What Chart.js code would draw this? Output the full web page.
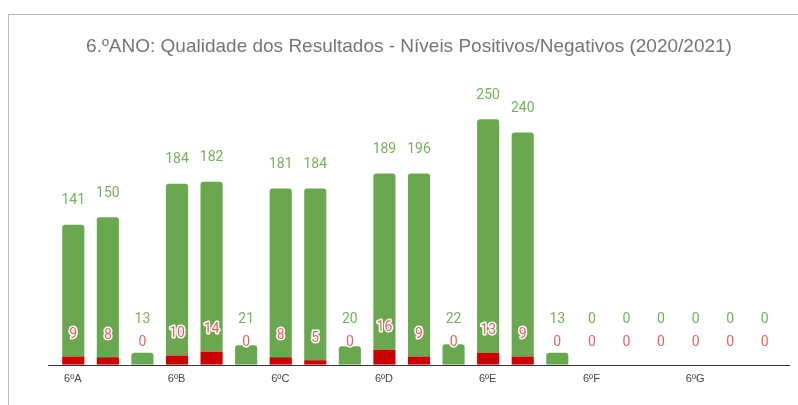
<!DOCTYPE html>
<html>
<head>
<meta charset="utf-8">
<script src="https://cdn.jsdelivr.net/npm/chart.js@4"></script>
<style>
  html, body { margin: 0; padding: 0; background: #fff; overflow: hidden; }
  #frame {
    position: absolute; left: 8px; top: 14px;
    width: 789px; height: 390px;
    border-top: 1px solid #bdbdbd; border-left: 1px solid #bdbdbd;
  }
  canvas { display: block; }
</style>
</head>
<body>
<div id="frame"><canvas id="chart" width="789" height="390"></canvas></div>
<script>
/* ==========================
   Data
   ========================== */
const turmas = ['6ºA', '6ºB', '6ºC', '6ºD', '6ºE', '6ºF', '6ºG'];
const periodos = ['1.º Período', '2.º Período', '3.º Período'];

// niveis positivos por periodo
const positivos1 = [141, 184, 181, 189, 250, 0, 0];
const positivos2 = [150, 182, 184, 196, 240, 0, 0];
const positivos3 = [13, 21, 20, 22, 13, 0, 0];

// niveis negativos por periodo
const negativos1 = [9, 10, 8, 16, 13, 0, 0];
const negativos2 = [8, 14, 5, 9, 9, 0, 0];
const negativos3 = [0, 0, 0, 0, 0, 0, 0];

const yMax = 300;

const verde = '#6aa84f';
const vermelho = '#cc0000';

/* ==========================
   Plugins
   ========================== */
// linha de base um pouco mais larga que a area do grafico
const baseLine = {
  id: 'baseLine',
  afterDatasetsDraw(chart) {
    const { ctx, chartArea } = chart;
    ctx.save();
    ctx.strokeStyle = '#333';
    ctx.lineWidth = 1;
    ctx.beginPath();
    ctx.moveTo(chartArea.left - 8, Math.round(chartArea.bottom) + 0.5);
    ctx.lineTo(chartArea.right + 8, Math.round(chartArea.bottom) + 0.5);
    ctx.stroke();
    ctx.restore();
  }
};

// rotulos de valor (verde por cima, vermelho acima da barra vermelha)
const valueLabels = {
  id: 'valueLabels',
  afterDatasetsDraw(chart) {
    const ctx = chart.ctx;
    ctx.save();
    ctx.font = '14px Roboto, "Liberation Sans", sans-serif';
    ctx.textAlign = 'center';
    ctx.textBaseline = 'middle';
    ctx.lineJoin = 'round';
    ctx.lineWidth = 3;
    ctx.strokeStyle = '#fff';

    for (let s = 0; s < periodos.length; s++) {
      const redMeta = chart.getDatasetMeta(s);
      const greenMeta = chart.getDatasetMeta(s + periodos.length);
      const redData = chart.data.datasets[s].data;
      const greenData = chart.data.datasets[s + periodos.length].data;

      redMeta.data.forEach((bar, i) => {
        const g = greenMeta.data[i];
        const redY = bar.y - 22;
        const greenY = Math.min(g.y - 24, redY - 23);

        ctx.fillStyle = '#e06666';
        ctx.strokeText(String(redData[i]), bar.x, redY);
        ctx.fillText(String(redData[i]), bar.x, redY);

        ctx.fillStyle = '#74b25a';
        ctx.strokeText(String(greenData[i]), g.x, greenY);
        ctx.fillText(String(greenData[i]), g.x, greenY);
      });
    }
    ctx.restore();
  }
};

/* ==========================
   Chart
   ========================== */
const negativos = [negativos1, negativos2, negativos3];
const positivos = [positivos1, positivos2, positivos3];

const datasets = [];
// vermelhos primeiro para ficarem desenhados por cima
negativos.forEach((arr, idx) => {
  datasets.push({
    label: 'Negativos ' + periodos[idx],
    data: arr,
    stack: 'p' + idx,
    backgroundColor: vermelho
  });
});
positivos.forEach((arr, idx) => {
  datasets.push({
    label: 'Positivos ' + periodos[idx],
    data: arr,
    stack: 'p' + idx,
    backgroundColor: verde,
    borderRadius: { topLeft: 3, topRight: 3 },
    borderSkipped: 'bottom'
  });
});

// eixo invisivel so para reservar espaco lateral
function spacer(width) {
  return {
    display: true,
    grid: { display: false },
    border: { display: false },
    ticks: { display: false },
    afterFit(scale) { scale.width = width; }
  };
}

new Chart(document.getElementById('chart'), {
  type: 'bar',
  data: { labels: turmas, datasets: datasets },
  options: {
    responsive: false,
    animation: false,
    categoryPercentage: 1,
    barPercentage: 0.64,
    layout: { padding: { left: 11, right: 0, top: 0, bottom: 11 } },
    plugins: {
      legend: { display: false },
      tooltip: { enabled: false },
      title: {
        display: true,
        text: '6.ºANO: Qualidade dos Resultados - Níveis Positivos/Negativos (2020/2021)',
        color: '#757575',
        font: { family: '"Liberation Sans", Arial, sans-serif', size: 19, weight: 'normal' },
        padding: { top: 20, bottom: 27 }
      }
    },
    scales: {
      x: {
        stacked: true,
        grid: { display: false, drawTicks: false },
        border: { display: false },
        ticks: {
          color: '#444',
          font: { family: '"Liberation Sans", Arial, sans-serif', size: 11 },
          padding: 8,
          labelOffset: -35
        }
      },
      y: Object.assign(spacer(36), { min: 0, max: yMax, position: 'left' }),
      yRight: Object.assign(spacer(16), { min: 0, max: yMax, position: 'right' })
    }
  },
  plugins: [baseLine, valueLabels]
});
</script>
</body>
</html>
